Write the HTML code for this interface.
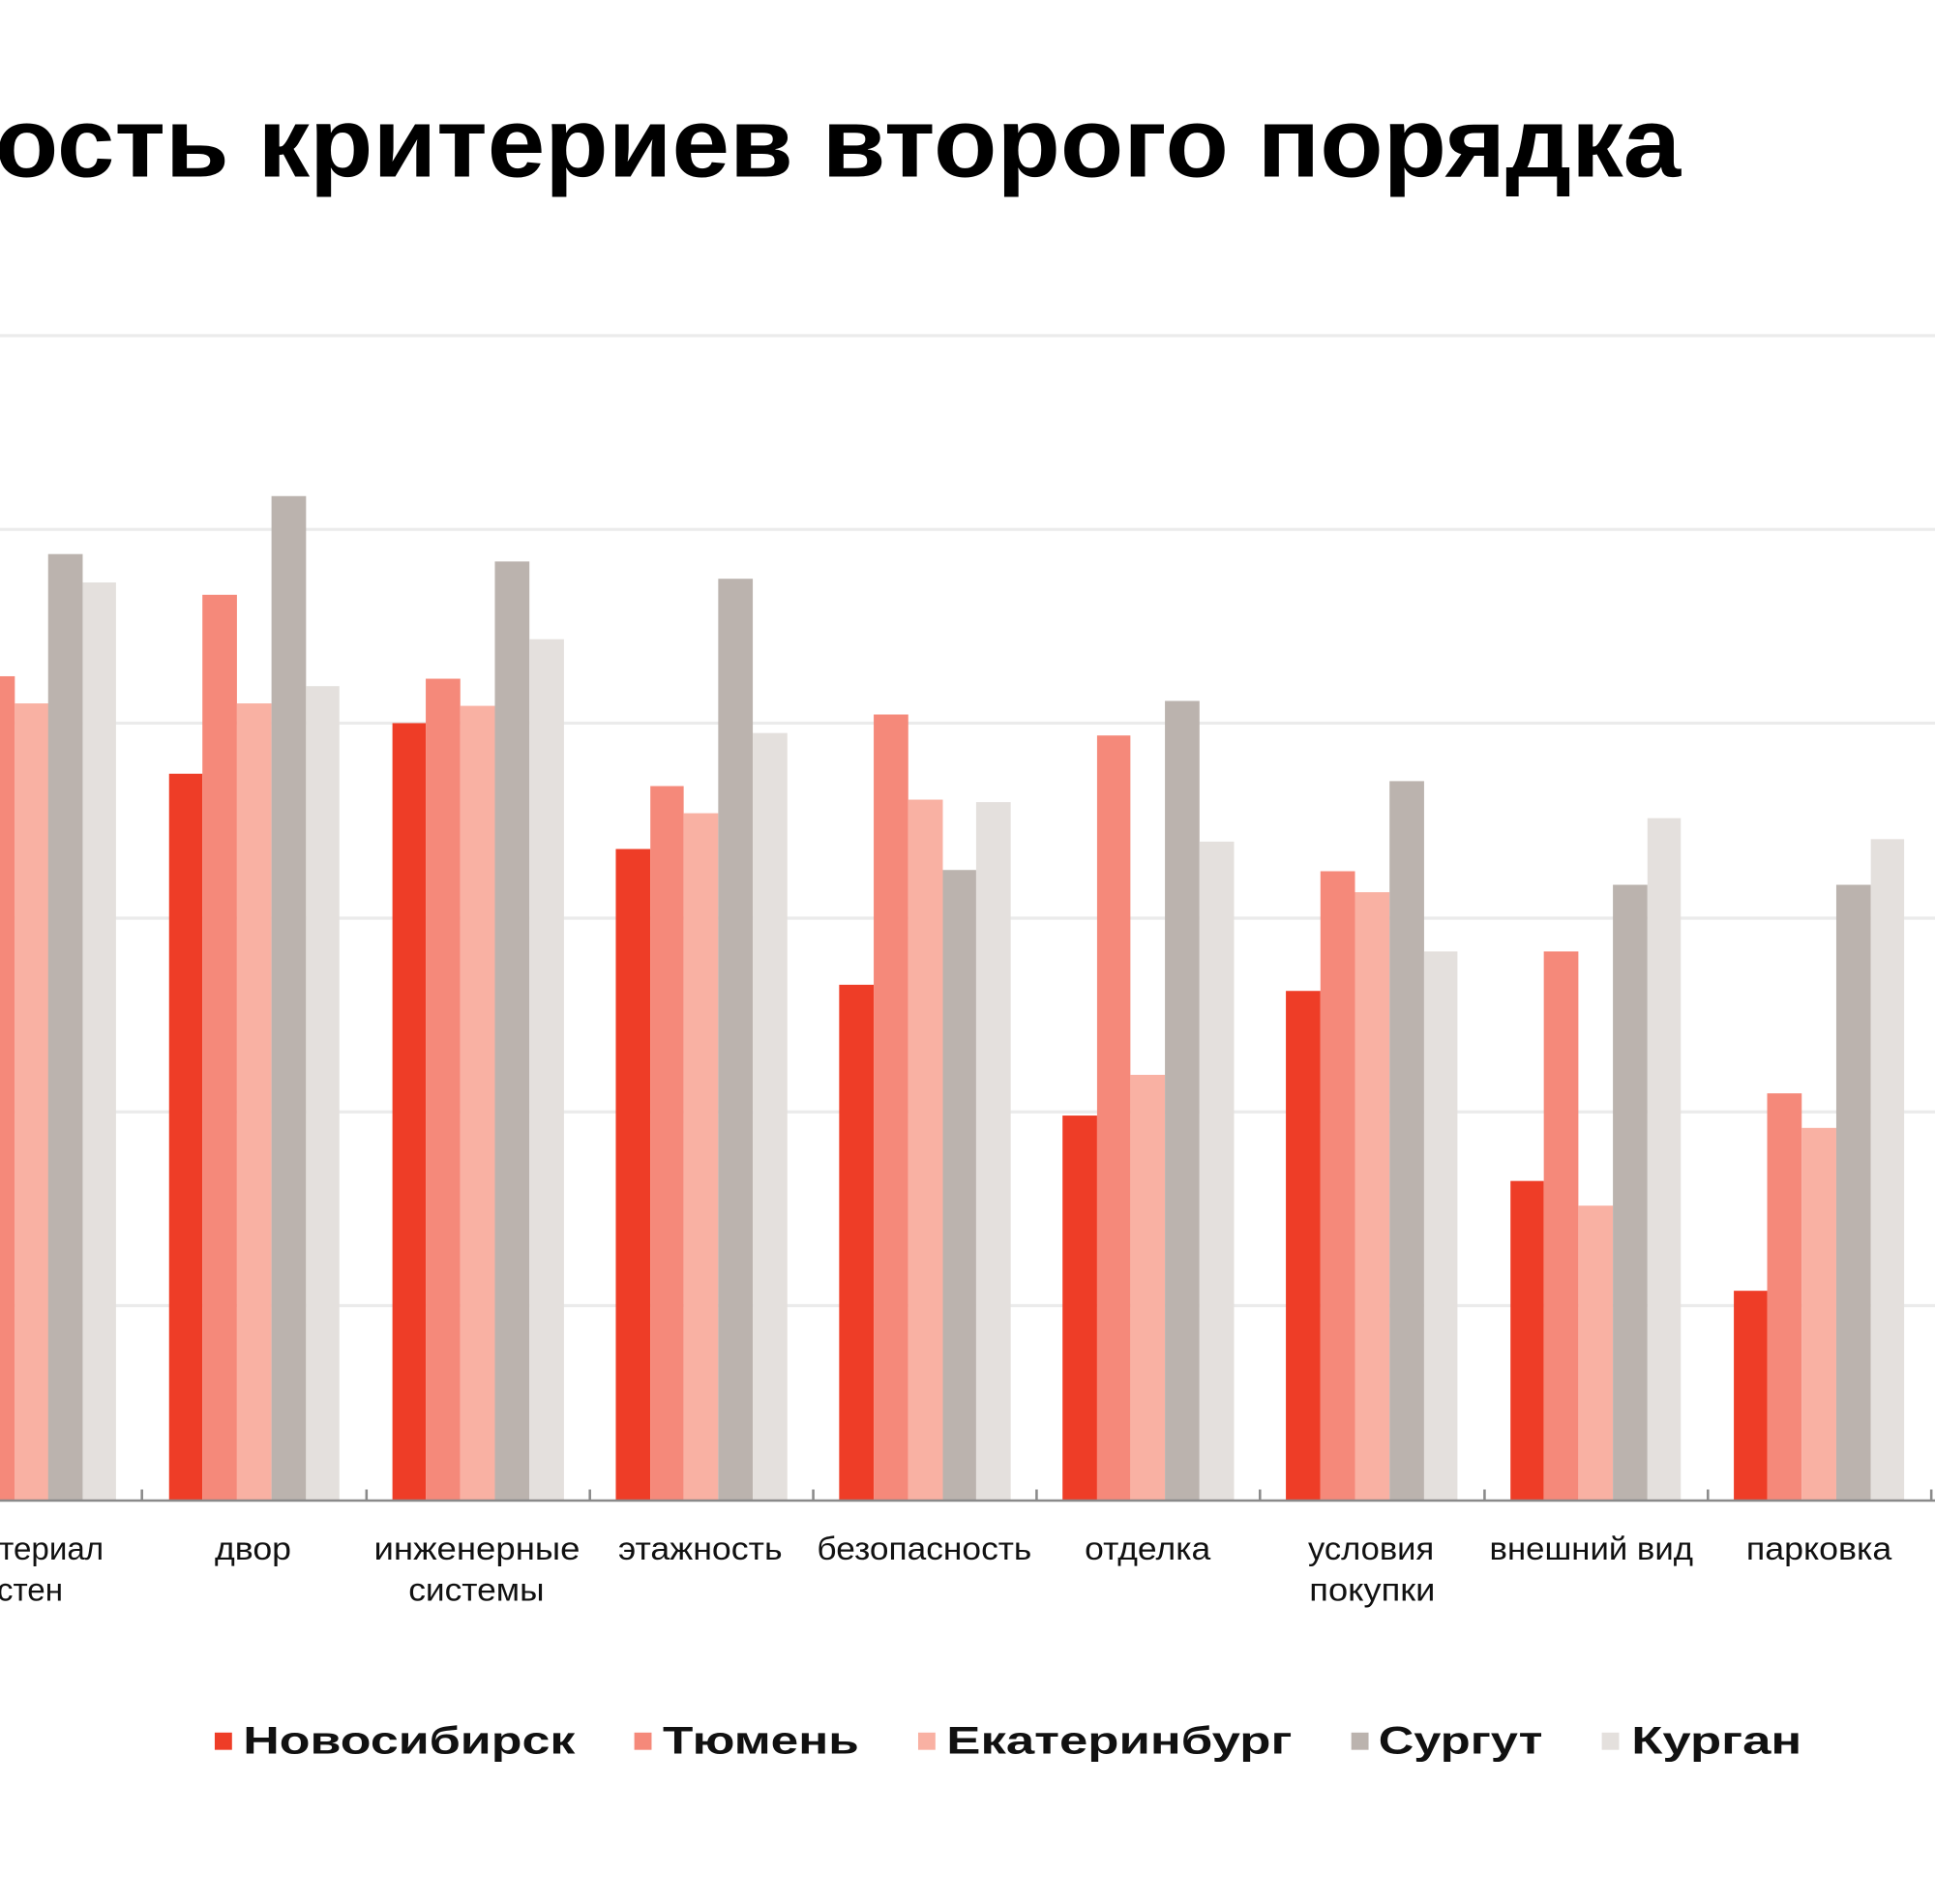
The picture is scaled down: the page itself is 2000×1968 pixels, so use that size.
<!DOCTYPE html>
<html><head><meta charset="utf-8"><style>html,body{margin:0;padding:0;background:#fff;overflow:hidden}</style></head>
<body>
<svg width="2000" height="1963" viewBox="0 0 1568 1539" xmlns="http://www.w3.org/2000/svg" font-family="Liberation Sans, sans-serif">
<rect width="1568" height="1539" fill="#fff"/>
<text x="-4" y="143" font-size="80" font-weight="bold" textLength="1366" lengthAdjust="spacingAndGlyphs" fill="#000">ость критериев второго порядка</text>
<g stroke="#ebebeb" stroke-width="2.5">
<line x1="0" x2="1568" y1="272" y2="272"/><line x1="0" x2="1568" y1="429" y2="429"/><line x1="0" x2="1568" y1="586" y2="586"/><line x1="0" x2="1568" y1="744" y2="744"/><line x1="0" x2="1568" y1="901" y2="901"/><line x1="0" x2="1568" y1="1058" y2="1058"/>
</g>
<g stroke="#8a8a8a" stroke-width="2">
<line x1="115" x2="115" y1="1207" y2="1216"/><line x1="297" x2="297" y1="1207" y2="1216"/><line x1="478" x2="478" y1="1207" y2="1216"/><line x1="659" x2="659" y1="1207" y2="1216"/><line x1="840" x2="840" y1="1207" y2="1216"/><line x1="1021" x2="1021" y1="1207" y2="1216"/><line x1="1203" x2="1203" y1="1207" y2="1216"/><line x1="1384" x2="1384" y1="1207" y2="1216"/><line x1="1565" x2="1565" y1="1207" y2="1216"/>
</g>
<g font-size="26" fill="#111">
<text x="84" y="1264" text-anchor="end">материал</text>
<text x="51" y="1297" text-anchor="end">стен</text>
<text x="174" y="1264" textLength="62" lengthAdjust="spacingAndGlyphs">двор</text>
<text x="303" y="1264" textLength="167" lengthAdjust="spacingAndGlyphs">инженерные</text>
<text x="331" y="1297" textLength="110" lengthAdjust="spacingAndGlyphs">системы</text>
<text x="501" y="1264" textLength="133" lengthAdjust="spacingAndGlyphs">этажность</text>
<text x="662" y="1264" textLength="174" lengthAdjust="spacingAndGlyphs">безопасность</text>
<text x="879" y="1264" textLength="102" lengthAdjust="spacingAndGlyphs">отделка</text>
<text x="1060" y="1264" textLength="102" lengthAdjust="spacingAndGlyphs">условия</text>
<text x="1061" y="1297" textLength="102" lengthAdjust="spacingAndGlyphs">покупки</text>
<text x="1207" y="1264" textLength="165" lengthAdjust="spacingAndGlyphs">внешний вид</text>
<text x="1415" y="1264" textLength="118" lengthAdjust="spacingAndGlyphs">парковка</text>
</g>
<g font-size="31" font-weight="bold" fill="#111">
<rect x="174" y="1404" width="14" height="14" fill="#ee3d27"/><text x="197" y="1421" textLength="269" lengthAdjust="spacingAndGlyphs">Новосибирск</text>
<rect x="514" y="1404" width="14" height="14" fill="#f5897a"/><text x="537" y="1421" textLength="159" lengthAdjust="spacingAndGlyphs">Тюмень</text>
<rect x="744" y="1404" width="14" height="14" fill="#f9b1a3"/><text x="767" y="1421" textLength="280" lengthAdjust="spacingAndGlyphs">Екатеринбург</text>
<rect x="1095" y="1404" width="14" height="14" fill="#bbb3ae"/><text x="1117" y="1421" textLength="133" lengthAdjust="spacingAndGlyphs">Сургут</text>
<rect x="1298" y="1404" width="14" height="14" fill="#e4e0dd"/><text x="1322" y="1421" textLength="138" lengthAdjust="spacingAndGlyphs">Курган</text>
</g>
<g>
<rect x="-16" y="548" width="28" height="668" fill="#f5897a"/>
<rect x="12" y="570" width="27.5" height="646" fill="#f9b1a3"/>
<rect x="39" y="449" width="28" height="767" fill="#bbb3ae"/>
<rect x="67" y="472" width="27" height="744" fill="#e4e0dd"/>
<rect x="137" y="627" width="27" height="589" fill="#ee3d27"/>
<rect x="164" y="482" width="28" height="734" fill="#f5897a"/>
<rect x="192" y="570" width="28" height="646" fill="#f9b1a3"/>
<rect x="220" y="402" width="28" height="814" fill="#bbb3ae"/>
<rect x="248" y="556" width="27" height="660" fill="#e4e0dd"/>
<rect x="318" y="586" width="27" height="630" fill="#ee3d27"/>
<rect x="345" y="550" width="28" height="666" fill="#f5897a"/>
<rect x="373" y="572" width="28" height="644" fill="#f9b1a3"/>
<rect x="401" y="455" width="28" height="761" fill="#bbb3ae"/>
<rect x="429" y="518" width="28" height="698" fill="#e4e0dd"/>
<rect x="499" y="688" width="28" height="528" fill="#ee3d27"/>
<rect x="527" y="637" width="27" height="579" fill="#f5897a"/>
<rect x="554" y="659" width="28" height="557" fill="#f9b1a3"/>
<rect x="582" y="469" width="28" height="747" fill="#bbb3ae"/>
<rect x="610" y="594" width="28" height="622" fill="#e4e0dd"/>
<rect x="680" y="798" width="28" height="418" fill="#ee3d27"/>
<rect x="708" y="579" width="28" height="637" fill="#f5897a"/>
<rect x="736" y="648" width="28" height="568" fill="#f9b1a3"/>
<rect x="764" y="705" width="27" height="511" fill="#bbb3ae"/>
<rect x="791" y="650" width="28" height="566" fill="#e4e0dd"/>
<rect x="861" y="904" width="28" height="312" fill="#ee3d27"/>
<rect x="889" y="596" width="27" height="620" fill="#f5897a"/>
<rect x="916" y="871" width="28" height="345" fill="#f9b1a3"/>
<rect x="944" y="568" width="28" height="648" fill="#bbb3ae"/>
<rect x="972" y="682" width="28" height="534" fill="#e4e0dd"/>
<rect x="1042" y="803" width="28" height="413" fill="#ee3d27"/>
<rect x="1070" y="706" width="28" height="510" fill="#f5897a"/>
<rect x="1098" y="723" width="28" height="493" fill="#f9b1a3"/>
<rect x="1126" y="633" width="28" height="583" fill="#bbb3ae"/>
<rect x="1154" y="771" width="27" height="445" fill="#e4e0dd"/>
<rect x="1224" y="957" width="27" height="259" fill="#ee3d27"/>
<rect x="1251" y="771" width="28" height="445" fill="#f5897a"/>
<rect x="1279" y="977" width="28" height="239" fill="#f9b1a3"/>
<rect x="1307" y="717" width="28" height="499" fill="#bbb3ae"/>
<rect x="1335" y="663" width="27" height="553" fill="#e4e0dd"/>
<rect x="1405" y="1046" width="27" height="170" fill="#ee3d27"/>
<rect x="1432" y="886" width="28" height="330" fill="#f5897a"/>
<rect x="1460" y="914" width="28" height="302" fill="#f9b1a3"/>
<rect x="1488" y="717" width="28" height="499" fill="#bbb3ae"/>
<rect x="1516" y="680" width="27" height="536" fill="#e4e0dd"/>
</g>
<line x1="0" x2="1568" y1="1216" y2="1216" stroke="#8a8a8a" stroke-width="2"/>
</svg>
</body></html>
